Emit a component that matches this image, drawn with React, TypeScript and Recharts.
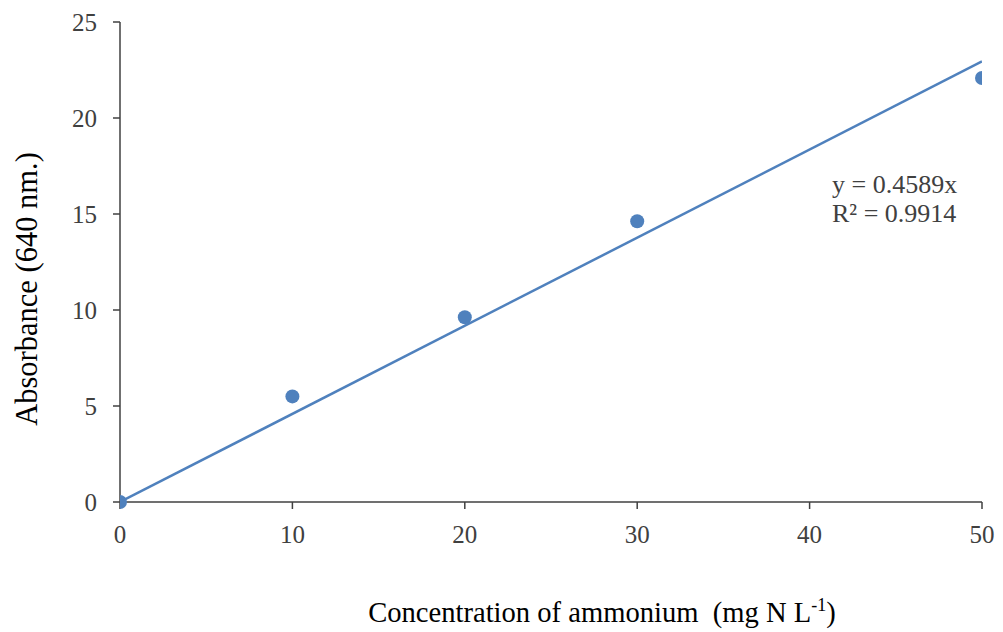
import React from "react";
import { ComposedChart, Line, Scatter, XAxis, YAxis } from "recharts";

const concentrations = [0, 10, 20, 30, 50];
const absorbances = [0, 5.5, 9.62, 14.62, 22.08];
const xTicks = [0, 10, 20, 30, 40, 50];
const yTicks = [0, 5, 10, 15, 20, 25];
const trendSlope = 0.4589;
const trendX = [0, 50];
const equationLines = ["y = 0.4589x", "R² = 0.9914"];

const points = concentrations.map((x, i) => ({ x, y: absorbances[i] }));
const trend = trendX.map((x) => ({ x, t: trendSlope * x }));

const axisColor = "#404040";
const seriesColor = "#4f81bd";
const font = "'Liberation Serif', 'Times New Roman', serif";

const XLabel = () => (
  <text
    x={602}
    y={622}
    textAnchor="middle"
    fontFamily={font}
    fontSize={28.6}
    fill="#000"
    style={{ whiteSpace: "pre" }}
  >
    <tspan>{"Concentration of ammonium  (mg N L"}</tspan>
    <tspan dy={-11} fontSize={18}>-1</tspan>
    <tspan dy={11}>)</tspan>
  </text>
);

const YLabel = () => (
  <text
    x={0}
    y={0}
    transform="translate(37,289) rotate(-90)"
    textAnchor="middle"
    fontFamily={font}
    fontSize={30.5}
    fill="#000"
  >
    Absorbance (640 nm.)
  </text>
);

export default function App() {
  return (
    <div style={{ position: "absolute", left: 0, top: 0, width: 1003, height: 632, background: "#fff" }}>
      <ComposedChart width={1003} height={632} margin={{ top: 22, right: 21, bottom: 0, left: 0 }}>
        <XAxis
          type="number"
          dataKey="x"
          domain={[0, 50]}
          ticks={xTicks}
          allowDataOverflow
          height={130}
          stroke={axisColor}
          strokeWidth={1.5}
          tickSize={7}
          tickMargin={16}
          tick={{ fill: axisColor, fontSize: 25, fontFamily: font }}
          label={<XLabel />}
        />
        <YAxis
          type="number"
          domain={[0, 25]}
          ticks={yTicks}
          width={120}
          stroke={axisColor}
          strokeWidth={1.5}
          tickSize={7}
          tickMargin={16}
          tick={{ fill: axisColor, fontSize: 25, fontFamily: font }}
          label={<YLabel />}
        />
        <Line
          data={trend}
          dataKey="t"
          stroke={seriesColor}
          strokeWidth={2.5}
          dot={false}
          activeDot={false}
          isAnimationActive={false}
        />
        <Scatter
          data={points}
          dataKey="y"
          fill={seriesColor}
          shape={(p: any) => <circle cx={p.cx} cy={p.cy} r={7} fill={seriesColor} />}
          isAnimationActive={false}
        />
      </ComposedChart>
      <div
        style={{
          position: "absolute",
          left: 832,
          top: 170,
          fontFamily: font,
          fontSize: 26,
          lineHeight: "29px",
          color: axisColor,
          whiteSpace: "pre",
        }}
      >
        {equationLines.map((l) => (
          <div key={l}>{l}</div>
        ))}
      </div>
    </div>
  );
}
